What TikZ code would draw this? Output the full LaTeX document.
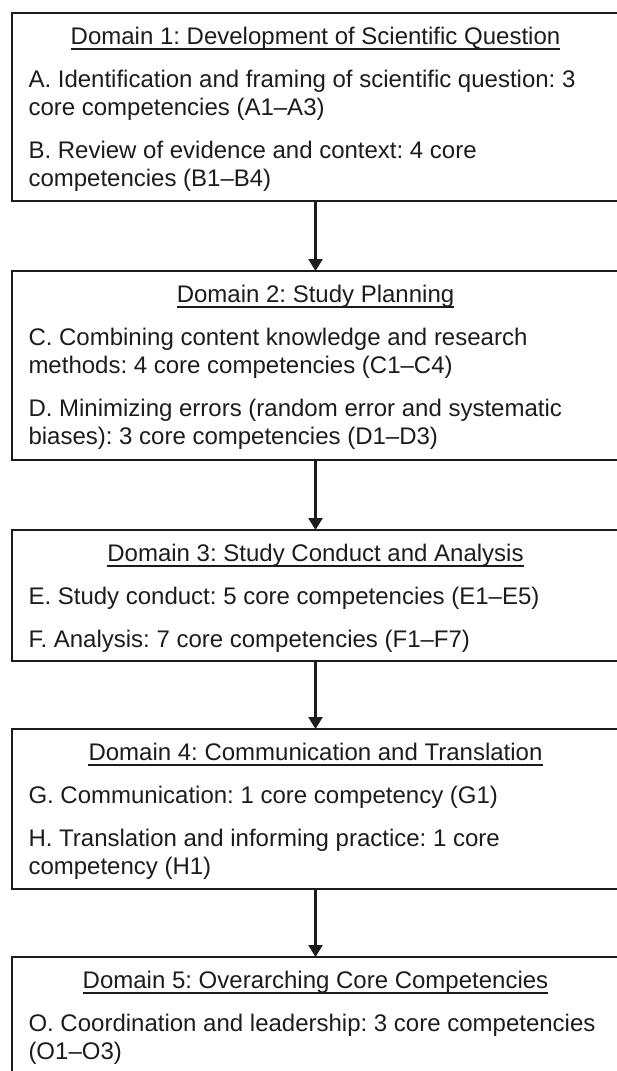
\documentclass[tikz,border=0pt]{standalone}
\usepackage{fontspec}
\setmainfont{Liberation Sans}
\usetikzlibrary{arrows.meta}
\definecolor{ink}{RGB}{30,27,28}
\frenchspacing
\begin{document}
\begin{tikzpicture}[x=1pt,y=-1pt,
  font=\fontsize{24}{27.6}\selectfont,
  box/.style={draw=ink, line width=2.8pt, minimum width=630pt, inner sep=0pt, outer sep=0pt, anchor=north west},
  ttl/.style={text=ink, inner sep=0pt, anchor=base},
  txt/.style={text=ink, inner sep=0pt, anchor=base west},
  uline/.style={draw=ink, line width=1.3pt},
  arr/.style={draw=ink, line width=2.4pt, -{Triangle[length=12pt,width=14pt]}}]
\useasboundingbox (0,0) rectangle (616,1071);
% boxes
\node[box, minimum height=188pt] (b1) at (12,13) {};
\node[box, minimum height=189pt] (b2) at (12,271) {};
\node[box, minimum height=131pt] (b3) at (12,530) {};
\node[box, minimum height=160pt] (b4) at (12,729) {};
\node[box, minimum height=140pt] (b5) at (12,957) {};
% box 1
\node[ttl] (t1) at (315.5,44) {Domain 1: Development of Scientific Question};
\node[txt] (a1) at (28.3,87) {A. Identification and framing of scientific question: 3};
\node[txt] (a2) at (28.3,115) {core competencies (A1–A3)};
\node[txt] (bb1) at (28.3,158) {B. Review of evidence and context: 4 core};
\node[txt] (bb2) at (28.3,186) {competencies (B1–B4)};
% box 2
\node[ttl] (t2) at (315.5,302) {Domain 2: Study Planning};
\node[txt] (c1) at (28.3,345) {C. Combining content knowledge and research};
\node[txt] (c2) at (28.3,373) {methods: 4 core competencies (C1–C4)};
\node[txt] (d1) at (28.3,416) {D. Minimizing errors (random error and systematic};
\node[txt] (d2) at (28.3,444) {biases): 3 core competencies (D1–D3)};
% box 3
\node[ttl] (t3) at (315.5,561) {Domain 3: Study Conduct and Analysis};
\node[txt] (e1) at (28.3,604) {E. Study conduct: 5 core competencies (E1–E5)};
\node[txt] (f1) at (28.3,647) {F. Analysis: 7 core competencies (F1–F7)};
% box 4
\node[ttl] (t4) at (315.5,760) {Domain 4: Communication and Translation};
\node[txt] (g1) at (28.3,803) {G. Communication: 1 core competency (G1)};
\node[txt] (h1) at (28.3,846) {H. Translation and informing practice: 1 core};
\node[txt] (h2) at (28.3,874) {competency (H1)};
% box 5
\node[ttl] (t5) at (315.5,988) {Domain 5: Overarching Core Competencies};
\node[txt] (o1) at (28.3,1031) {O. Coordination and leadership: 3 core competencies};
\node[txt] (o2) at (28.3,1059) {(O1–O3)};
% underlines
\foreach \t in {t1,t2,t3,t4,t5}
  \draw[uline] ([yshift=-5pt]\t.base west) -- ([yshift=-5pt]\t.base east);
% arrows
\draw[arr] (t1 |- b1.south) -- (t1 |- b2.north);
\draw[arr] (t2 |- b2.south) -- (t2 |- b3.north);
\draw[arr] (t3 |- b3.south) -- (t3 |- b4.north);
\draw[arr] (t4 |- b4.south) -- (t4 |- b5.north);
\end{tikzpicture}
\end{document}
